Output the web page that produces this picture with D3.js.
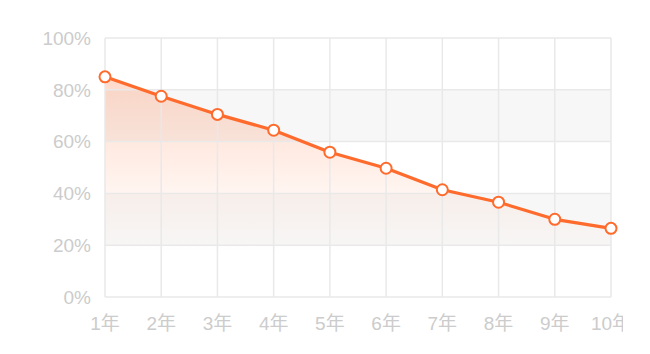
<!DOCTYPE html>
<html>
<head>
<meta charset="utf-8">
<script src="https://cdn.jsdelivr.net/npm/d3@7/dist/d3.min.js"></script>
<style>
  body { margin: 0; background: #fff; }
  svg text { font-family: "Liberation Sans", "Noto Sans CJK SC", sans-serif; fill: #cccccc; }
</style>
</head>
<body>
<svg id="chart" width="623" height="354"></svg>
<script>
var years = ["1年", "2年", "3年", "4年", "5年", "6年", "7年", "8年", "9年", "10年"];
var rates = [85, 77.5, 70.5, 64.4, 55.9, 49.7, 41.4, 36.6, 30, 26.5];
var yTicks = [0, 20, 40, 60, 80, 100];

var margin = {top: 38, left: 105, right: 12, bottom: 57};
var width = 611 - margin.left;
var height = 297 - margin.top;

var svg = d3.select("#chart")
  .append("g")
    .attr("transform", "translate(" + margin.left + "," + margin.top + ")");

var x = d3.scalePoint().domain(years).range([0, width]);
var y = d3.scaleLinear().domain([0, 100]).range([height, 0]);

// alternating bands
svg.append("g").selectAll("rect")
  .data([20, 60])
  .enter().append("rect")
    .attr("x", 0)
    .attr("width", width)
    .attr("y", function(d) { return y(d + 20); })
    .attr("height", function(d) { return y(d) - y(d + 20); })
    .attr("fill", "#f7f7f7");

// gradient for area
var defs = svg.append("defs");
var grad = defs.append("linearGradient")
  .attr("id", "areaGrad")
  .attr("gradientUnits", "userSpaceOnUse")
  .attr("x1", 0).attr("x2", 0)
  .attr("y1", y(d3.max(rates))).attr("y2", y(0));
grad.append("stop").attr("offset", "0").attr("stop-color", "#ff6b2c").attr("stop-opacity", 0.25);
grad.append("stop").attr("offset", "0.55").attr("stop-color", "#ff6b2c").attr("stop-opacity", 0.06);
grad.append("stop").attr("offset", "0.8").attr("stop-color", "#ff6b2c").attr("stop-opacity", 0.0);

var area = d3.area()
  .x(function(d, i) { return x(years[i]); })
  .y0(y(0))
  .y1(function(d) { return y(d); });

svg.append("path")
  .datum(rates)
  .attr("d", area)
  .attr("fill", "url(#areaGrad)");

// grid
svg.append("g").selectAll("line.h")
  .data(yTicks)
  .enter().append("line")
    .attr("x1", 0).attr("x2", width)
    .attr("y1", function(d) { return y(d); })
    .attr("y2", function(d) { return y(d); })
    .attr("stroke", "#e9e9e9")
    .attr("stroke-width", 1.5);

svg.append("g").selectAll("line.v")
  .data(years)
  .enter().append("line")
    .attr("x1", function(d) { return x(d); })
    .attr("x2", function(d) { return x(d); })
    .attr("y1", 0).attr("y2", height)
    .attr("stroke", "#e9e9e9")
    .attr("stroke-width", 1.5);

// labels
svg.append("g").selectAll("text")
  .data(yTicks)
  .enter().append("text")
    .attr("x", -14)
    .attr("y", function(d) { return y(d); })
    .attr("dy", "0.36em")
    .attr("text-anchor", "end")
    .style("font-size", "19px")
    .text(function(d) { return d + "%"; });

svg.append("g").selectAll("text")
  .data(years)
  .enter().append("text")
    .attr("x", function(d) { return x(d); })
    .attr("y", height + 26)
    .attr("dy", "0.36em")
    .attr("text-anchor", "middle")
    .style("font-size", "19px")
    .text(function(d) { return d; });

// line
var line = d3.line()
  .x(function(d, i) { return x(years[i]); })
  .y(function(d) { return y(d); });

svg.append("path")
  .datum(rates)
  .attr("d", line)
  .attr("fill", "none")
  .attr("stroke", "#ff6b2c")
  .attr("stroke-width", 3.2)
  .attr("stroke-linejoin", "round");

svg.append("g").selectAll("circle")
  .data(rates)
  .enter().append("circle")
    .attr("cx", function(d, i) { return x(years[i]); })
    .attr("cy", function(d) { return y(d); })
    .attr("r", 5.5)
    .attr("fill", "#fff")
    .attr("stroke", "#ff6b2c")
    .attr("stroke-width", 2);
</script>
</body>
</html>
